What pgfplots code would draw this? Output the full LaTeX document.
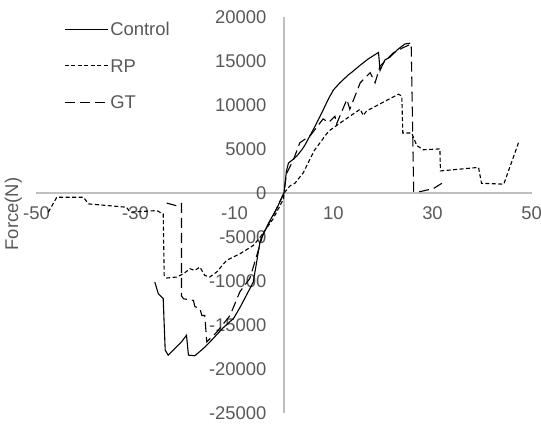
\documentclass[border=0pt]{standalone}
\usepackage{pgfplots}
\pgfplotsset{compat=1.18}
\usepackage{fontspec}
\setmainfont{Liberation Sans}
\definecolor{axgray}{HTML}{BFBFBF}
\definecolor{txtgray}{HTML}{595959}
\newcommand{\lblfont}{\fontsize{18.5}{22}\selectfont}
\begin{document}
\begin{tikzpicture}
\begin{axis}[
 scale only axis, width=495bp, height=396.6bp,
 xmin=-50, xmax=50, ymin=-25000, ymax=20000,
 axis lines=middle,
 axis line style={draw=axgray, line width=1.3bp, -},
 xtick={-50,-30,-10,10,30,50},
 ytick={-25000,-20000,-15000,-10000,-5000,0,5000,10000,15000,20000},
 major tick length=0pt,
 hide obscured y ticks=false,
 hide obscured x ticks=false,
 scaled y ticks=false,
 tick label style={font=\lblfont, text=txtgray},
 /pgf/number format/assume math mode=true,
 /pgf/number format/1000 sep={},
 xticklabel style={anchor=north, yshift=-10bp},
 yticklabel style={anchor=east, xshift=-14bp},
 ylabel={Force(N)},
 every axis y label/.style={at={(rel axis cs:-0.0465,0.5025)}, anchor=center, rotate=90, font=\lblfont, text=txtgray},
 clip=false,
 legend style={at={(rel axis cs:0.0556,0.99)}, anchor=north west, draw=none, fill=none, inner sep=0pt, row sep=19.5bp, font=\lblfont, text=txtgray, nodes={inner sep=2bp, text height=13bp, text depth=0bp}},
 legend image code/.code={\draw[#1] (0bp,0bp) -- (43bp,0bp);},
 legend cell align=left,
]
% Control
\addplot[black, line width=1.1bp] coordinates {
(-26.1,-10100) (-25.4,-11420) (-24.4,-11990) (-24.0,-17830) (-23.4,-18400)
(-20.7,-16890) (-19.7,-16140) (-19.3,-18400) (-18.0,-18470) (-16.0,-17500)
(-14.3,-16510) (-12.3,-15300) (-10.2,-14250) (-8.9,-13000) (-6.9,-10860)
(-6.2,-10100) (-4.8,-5400) (-3.0,-3300) (-1.5,-1800) (0,0)
(0.5,2500) (0.9,3400) (1.6,3700) (2.6,4200) (3.6,4900) (4.2,5400) (6.3,7600)
(7.9,9400) (9.0,10700) (10.0,11700) (11.3,12500) (13.0,13400) (13.7,13700)
(15.4,14500) (17.0,15200) (19.1,15950) (19.4,13900) (20.4,15100) (21.4,15400)
(22.8,16200) (24.4,16900) (25.5,17000)
};
\addlegendentry{Control}
% RP
\addplot[black, line width=1.1bp, dash pattern=on 4bp off 2.5bp] coordinates {
(-47.6,-2180) (-45.9,-490) (-40.5,-490) (-39.5,-1240) (-31.8,-1620) (-31.1,-2180)
(-25.7,-2000) (-24.4,-2380) (-24.2,-9350) (-23.7,-9650) (-21.7,-9540)
(-20.3,-9160) (-19.0,-8600) (-18.0,-8790) (-17.0,-8400) (-16.0,-9350)
(-15.0,-9540) (-13.6,-8970) (-11.6,-7650) (-8.9,-6900) (-6.2,-5960)
(-4.8,-5010) (-2.2,-2940) (-0.1,-680) (0,0)
(1.2,800) (2.2,1100) (3.9,2300) (6.1,4800) (9.0,7000) (11.0,7800) (13.3,8700)
(15.4,9500) (16.0,8800) (16.7,9300) (18.7,9900) (23.1,11200) (23.8,11000)
(24.0,6800) (25.8,6800) (26.8,5400) (28.1,4900) (31.5,5000) (31.6,2500)
(39.3,2900) (39.9,1100) (44.4,1000) (47.5,5900)
};
\addlegendentry{RP}
% GT
\addplot[black, line width=1.1bp, dash pattern=on 10bp off 5bp] coordinates {
(-23.7,-1150) (-21.7,-1450) (-20.7,-1200) (-20.7,-11700) (-20.3,-12000)
(-18.3,-12200) (-18.0,-12900) (-17.0,-13100) (-16.6,-13900) (-16.0,-13900)
(-15.6,-16900) (-13.6,-15800) (-10.9,-13900) (-8.9,-11200) (-6.9,-9700)
(-5.5,-7100) (-4.2,-4600) (-2.2,-2600) (0,0)
(0.5,2200) (1.9,3750) (3.2,5700) (5.3,6500) (7.9,8400) (9.0,8000) (10.3,8700)
(10.6,7800) (12.7,10600) (13.3,9500) (15.4,12500) (17.4,13650) (18.4,12500)
(19.4,14400) (22.1,15900) (24.1,16500) (25.7,16900) (26.2,200) (27.5,150)
(30.2,500) (31.9,1100)
};
\addlegendentry{GT}
\coordinate (BBTL) at (rel axis cs:-0.0737,1.0421);
\coordinate (BBBR) at (rel axis cs:1.0192,-0.0245);
\end{axis}
\pgfresetboundingbox
\path[use as bounding box] (BBTL) rectangle (BBBR);
\end{tikzpicture}
\end{document}
